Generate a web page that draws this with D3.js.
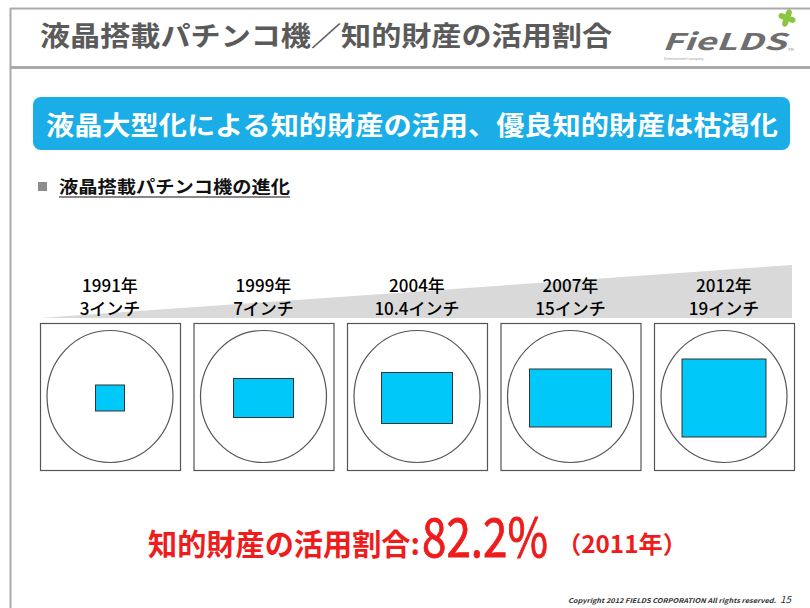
<!DOCTYPE html>
<html>
<head>
<meta charset="utf-8">
<script src="https://cdn.jsdelivr.net/npm/d3@7"></script>
<style>
  body { margin: 0; background: #fff; }
  text { font-family: "Noto Sans CJK JP", "Noto Sans", sans-serif; }
</style>
</head>
<body>
<div id="chart"></div>
<script>
// data
var years = ["1991年", "1999年", "2004年", "2007年", "2012年"]
var inches = ["3", "7", "10.4", "15", "19"]
// screen size inside each machine (estimated, in drawing units)
var screenWidth = [29, 60, 71, 82, 84]
var screenHeight = [26, 39, 51, 58, 78]
var shareLabel = "知的財産の活用割合:"
var shareValue = "82.2%"
var shareYear = "（2011年）"

var width = 810, height = 608

var svg = d3.select("#chart")
  .append("svg")
  .attr("width", width)
  .attr("height", height)

// page frame
svg.append("line").attr("x1", 10.5).attr("x2", 10.5).attr("y1", 8).attr("y2", height)
  .attr("stroke", "#aaa").attr("stroke-width", 2)
svg.append("line").attr("x1", 10).attr("x2", width).attr("y1", 8.5).attr("y2", 8.5)
  .attr("stroke", "#aaa").attr("stroke-width", 2)
svg.append("line").attr("x1", 10).attr("x2", width).attr("y1", 67.5).attr("y2", 67.5)
  .attr("stroke", "#aaa").attr("stroke-width", 3)

// title
svg.append("text")
  .attr("x", 40).attr("y", 46)
  .attr("font-size", 27).attr("font-weight", "bold")
  .attr("fill", "#5a5a5a")
  .attr("textLength", 572).attr("lengthAdjust", "spacingAndGlyphs")
  .text("液晶搭載パチンコ機／知的財産の活用割合")

// logo
var logo = svg.append("g").attr("class", "logo")
logo.append("text")
  .attr("x", 662).attr("y", 50)
  .attr("font-family", "DejaVu Sans").attr("font-size", 23)
  .attr("font-weight", "bold").attr("font-style", "italic")
  .attr("fill", "#6e6e6e")
  .attr("textLength", 124).attr("lengthAdjust", "spacingAndGlyphs")
  .text("FieLDS")
logo.append("text")
  .attr("x", 788).attr("y", 51)
  .attr("font-size", 4).attr("fill", "#888")
  .text("TM")
logo.append("text")
  .attr("x", 664).attr("y", 60)
  .attr("font-size", 3.5).attr("fill", "#999")
  .text("Entertainment company")
var flower = logo.append("g").attr("transform", "translate(787,18)")
flower.selectAll("ellipse")
  .data([0, 90, 180, 270])
  .enter()
  .append("ellipse")
  .attr("cx", 0).attr("cy", -4.5)
  .attr("rx", 3).attr("ry", 4.5)
  .attr("fill", "#8cc63f")
  .attr("transform", (d) => "rotate(" + (d + 20) + ")")

// blue banner
svg.append("rect")
  .attr("x", 33).attr("y", 97)
  .attr("width", 757).attr("height", 53)
  .attr("rx", 8)
  .attr("fill", "#1aade6")
svg.append("text")
  .attr("x", 46).attr("y", 135)
  .attr("font-size", 26).attr("font-weight", "bold")
  .attr("fill", "#fff")
  .attr("textLength", 732).attr("lengthAdjust", "spacingAndGlyphs")
  .text("液晶大型化による知的財産の活用、優良知的財産は枯渇化")

// section heading
svg.append("rect")
  .attr("x", 38).attr("y", 182)
  .attr("width", 9).attr("height", 9)
  .attr("fill", "#8c8c8c")
svg.append("text")
  .attr("x", 59).attr("y", 193)
  .attr("font-size", 17).attr("font-weight", "bold")
  .attr("fill", "#111")
  .attr("textLength", 231).attr("lengthAdjust", "spacingAndGlyphs")
  .text("液晶搭載パチンコ機の進化")
svg.append("line")
  .attr("x1", 59).attr("x2", 290).attr("y1", 197).attr("y2", 197)
  .attr("stroke", "#111").attr("stroke-width", 1.2)

// machine boxes
var x = d3.scaleBand()
  .domain(years)
  .range([40, 794])
  .paddingInner(0.088)
  .paddingOuter(0)

var boxTop = 323, boxBottom = 470
var cy = (boxTop + boxBottom) / 2
var size = d3.scaleLinear().domain([0, 100]).range([0, 100])

// growth wedge behind the labels
svg.append("path")
  .attr("d", d3.line()([
    [x.range()[0], 318],
    [x.range()[1] - 2, 265],
    [x.range()[1] - 2, 318]
  ]) + "Z")
  .attr("fill", "#d9d9d9")

var rows = years.map((d, i) => ({
  year: d,
  inch: inches[i],
  w: screenWidth[i],
  h: screenHeight[i]
}))

var machine = svg.selectAll(".machine")
  .data(rows)
  .enter()
  .append("g")
  .attr("class", "machine")

machine.append("text")
  .attr("x", (d) => x(d.year) + x.bandwidth() / 2)
  .attr("y", 292)
  .attr("text-anchor", "middle")
  .attr("font-size", 17)
  .attr("font-weight", 500)
  .attr("fill", "#000")
  .text((d) => d.year)

machine.append("text")
  .attr("x", (d) => x(d.year) + x.bandwidth() / 2)
  .attr("y", 315)
  .attr("text-anchor", "middle")
  .attr("font-size", 17)
  .attr("font-weight", 500)
  .attr("fill", "#000")
  .text((d) => d.inch + "インチ")

machine.append("rect")
  .attr("x", (d) => x(d.year) + 0.5)
  .attr("y", boxTop + 0.5)
  .attr("width", x.bandwidth())
  .attr("height", boxBottom - boxTop)
  .attr("fill", "#fff")
  .attr("stroke", "#555")
  .attr("stroke-width", 1.2)

machine.append("ellipse")
  .attr("cx", (d) => x(d.year) + x.bandwidth() / 2)
  .attr("cy", cy)
  .attr("rx", 63)
  .attr("ry", 66)
  .attr("fill", "none")
  .attr("stroke", "#555")
  .attr("stroke-width", 1.2)

machine.append("rect")
  .attr("x", (d) => x(d.year) + x.bandwidth() / 2 - size(d.w) / 2)
  .attr("y", (d) => cy + 1.5 - size(d.h) / 2)
  .attr("width", (d) => size(d.w))
  .attr("height", (d) => size(d.h))
  .attr("fill", "#00c8f8")
  .attr("stroke", "#333")
  .attr("stroke-width", 1)

// usage share
svg.append("text")
  .attr("x", 148).attr("y", 555)
  .attr("font-size", 30).attr("font-weight", "bold")
  .attr("fill", "#ee1c1c")
  .attr("textLength", 272).attr("lengthAdjust", "spacingAndGlyphs")
  .text(shareLabel)
// tall narrow figure: stretch vertically instead of squeezing the width
svg.append("text")
  .attr("transform", "translate(422,557) scale(1,1.22)")
  .attr("font-family", "Liberation Sans, sans-serif")
  .attr("font-size", 44)
  .attr("fill", "#ee1c1c")
  .attr("stroke", "#ee1c1c").attr("stroke-width", 0.7)
  .text(shareValue)
svg.append("text")
  .attr("x", 557).attr("y", 553)
  .attr("font-size", 24).attr("font-weight", "bold")
  .attr("fill", "#ee1c1c")
  .attr("textLength", 130).attr("lengthAdjust", "spacingAndGlyphs")
  .text(shareYear)

// footer
svg.append("text")
  .attr("x", 568).attr("y", 603)
  .attr("font-family", "Liberation Sans, sans-serif")
  .attr("font-size", 6.5).attr("font-weight", "bold").attr("font-style", "italic")
  .attr("fill", "#333")
  .attr("textLength", 208).attr("lengthAdjust", "spacingAndGlyphs")
  .text("Copyright 2012   FIELDS CORPORATION    All rights reserved.")
svg.append("text")
  .attr("x", 780).attr("y", 603)
  .attr("font-family", "Liberation Sans, sans-serif")
  .attr("font-size", 10).attr("font-style", "italic")
  .attr("fill", "#333")
  .text("15")
</script>
</body>
</html>
